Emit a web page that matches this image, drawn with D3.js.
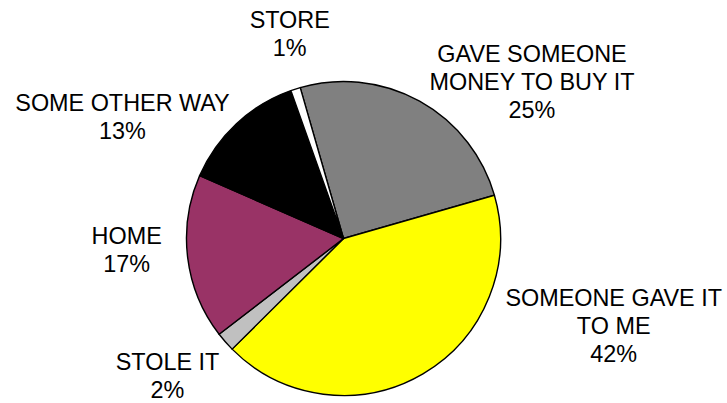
<!DOCTYPE html>
<html>
<head>
<meta charset="utf-8">
<script src="https://cdn.jsdelivr.net/npm/d3@7"></script>
<style>
  html, body { margin: 0; padding: 0; background: #fff; }
  svg { display: block; }
  text { font-family: "Liberation Sans", Arial, sans-serif; font-size: 23.4px; fill: #000; }
</style>
</head>
<body>
<svg id="chart" width="727" height="403"></svg>
<script>
// Where the item came from — share of responses, listed clockwise
const categories = ["GAVE SOMEONE MONEY TO BUY IT", "SOMEONE GAVE IT TO ME", "STOLE IT", "HOME", "SOME OTHER WAY", "STORE"];
const values = [25, 42, 2, 17, 13, 1];
const labelLines = [
  ["GAVE SOMEONE", "MONEY TO BUY IT"],
  ["SOMEONE GAVE IT", "TO ME"],
  ["STOLE IT"],
  ["HOME"],
  ["SOME OTHER WAY"],
  ["STORE"]
];
const sliceColors = ["#808080", "#FFFF00", "#C0C0C0", "#993366", "#000000", "#FFFFFF"];

// Label anchors (text centre x, first baseline) relative to the pie centre
const labelOffsets = [
  [188.5, -176.2],
  [270.2, 67.5],
  [-176, 131.5],
  [-216.8, 5.8],
  [-221, -127.8],
  [-53.8, -210.8]
];

const cx = 343.5, cy = 238.5, radius = 157, lineStep = 28;
const startDeg = -16;

const svg = d3.select("#chart");
const g = svg.append("g").attr("transform", `translate(${cx},${cy})`);

const pie = d3.pie()
  .value(d => d.value)
  .sort(null)
  .startAngle(startDeg * Math.PI / 180)
  .endAngle((startDeg + 360) * Math.PI / 180);

const arc = d3.arc().innerRadius(0).outerRadius(radius);

const data = categories.map((c, i) => ({ name: c, value: values[i], color: sliceColors[i], lines: labelLines[i], off: labelOffsets[i] }));
const arcs = pie(data);

g.selectAll("path.slice")
  .data(arcs)
  .join("path")
  .attr("class", "slice")
  .attr("d", arc)
  .attr("fill", d => d.data.color)
  .attr("stroke", "#000")
  .attr("stroke-width", 1.4)
  .attr("stroke-linejoin", "round");

const labels = g.selectAll("text.label")
  .data(arcs)
  .join("text")
  .attr("class", "label")
  .attr("text-anchor", "middle")
  .attr("x", d => d.data.off[0])
  .attr("y", d => d.data.off[1]);

labels.each(function(d) {
  const t = d3.select(this);
  const lines = d.data.lines.concat([d3.format(".0f")(d.data.value) + "%"]);
  lines.forEach((ln, k) => {
    t.append("tspan")
      .attr("x", d.data.off[0])
      .attr("y", d.data.off[1] + k * lineStep)
      .text(ln);
  });
});
</script>
</body>
</html>
